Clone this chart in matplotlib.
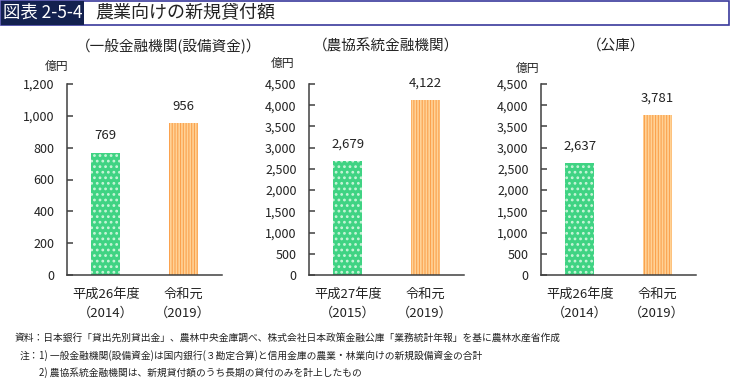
import matplotlib
matplotlib.use('Agg')
import matplotlib.pyplot as plt
from matplotlib.patches import Rectangle

plt.rcParams['font.family'] = ['Noto Sans CJK JP', 'DejaVu Sans']
plt.rcParams['hatch.linewidth'] = 1.2

# data
panel_titles = ['（一般金融機関(設備資金)）', '（農協系統金融機関）', '（公庫）']
categories = [
    ['平成26年度\n（2014）', '令和元\n（2019）'],
    ['平成27年度\n（2015）', '令和元\n（2019）'],
    ['平成26年度\n（2014）', '令和元\n（2019）'],
]
values = [
    [769, 956],
    [2679, 4122],
    [2637, 3781],
]
y_max = [1200, 4500, 4500]
y_step = [200, 500, 500]
unit = '億円'

title_tag = '図表 2-5-4'
title = '農業向けの新規貸付額'
notes = [
    '資料：日本銀行「貸出先別貸出金」、農林中央金庫調べ、株式会社日本政策金融公庫「業務統計年報」を基に農林水産省作成',
    '1) 一般金融機関(設備資金)は国内銀行(３勘定合算)と信用金庫の農業・林業向けの新規設備資金の合計',
    '2) 農協系統金融機関は、新規貸付額のうち長期の貸付のみを計上したもの',
]

W, H = 730, 379
fig = plt.figure(figsize=(W / 100, H / 100), dpi=100)

green = '#3fd383'
orange = '#fba24e'
text_c = '#222222'
axis_c = '#404040'

# title bar
fig.patches.append(Rectangle((0.5 / W, 1 - 25 / H), 728.5 / W, 24 / H, transform=fig.transFigure,
                             facecolor='none', edgecolor='#3a3a9c', lw=1.2))
fig.patches.append(Rectangle((0.5 / W, 1 - 25 / H), 83 / W, 24 / H, transform=fig.transFigure,
                             facecolor='#13214f', edgecolor='none'))
fig.text(3 / W, 1 - 13 / H, title_tag, color='white', fontsize=12.5, va='center', ha='left')
fig.text(95 / W, 1 - 13 / H, title, color=text_c, fontsize=13, va='center', ha='left')

axes_left = [67, 309, 541]
title_x = [169, 386, 616]
unit_x = [57, 283, 528]
unit_y = [66, 63, 68]

for i in range(3):
    ax = fig.add_axes([axes_left[i] / W, (H - 275) / H, 155 / W, 191 / H])
    x = [0, 1]
    ax.bar(x[0], values[i][0], width=0.38, color=green, edgecolor='#c8f5d8',
           hatch='...', linewidth=0)
    ax.bar(x[1], values[i][1], width=0.38, color=orange, edgecolor='#ffd296',
           hatch='||||||', linewidth=0)
    ax.set_xlim(-0.5, 1.5)
    ax.set_ylim(0, y_max[i])
    ax.set_yticks(range(0, y_max[i] + 1, y_step[i]))
    ax.set_yticklabels(['{:,}'.format(v) for v in range(0, y_max[i] + 1, y_step[i])])
    ax.set_xticks(x)
    ax.set_xticklabels(categories[i], linespacing=1.6)
    ax.tick_params(axis='y', direction='in', length=4, width=1.1, color=axis_c,
                   labelsize=9, labelcolor=text_c, pad=9)
    ax.tick_params(axis='x', length=0, labelsize=9.5, labelcolor=text_c, pad=9)
    for s in ['top', 'right']:
        ax.spines[s].set_visible(False)
    for s in ['left', 'bottom']:
        ax.spines[s].set_color(axis_c)
        ax.spines[s].set_linewidth(1.1)
    for xi, v in zip(x, values[i]):
        ax.annotate('{:,}'.format(v), (xi, v), xytext=(0, 12), textcoords='offset points',
                    ha='center', va='center', fontsize=9.5, color=text_c)
    fig.text(title_x[i] / W, 1 - 46 / H, panel_titles[i], ha='center', va='center',
             fontsize=10.5, color=text_c)
    fig.text(unit_x[i] / W, 1 - unit_y[i] / H, unit, ha='center', va='center',
             fontsize=8.5, color=text_c)

# notes
fig.text(15 / W, 1 - 338 / H, notes[0], fontsize=7, va='center', ha='left', color=text_c)
fig.text(39 / W, 1 - 356 / H, '注：', fontsize=7, va='center', ha='right', color=text_c)
fig.text(39 / W, 1 - 356 / H, notes[1], fontsize=7, va='center', ha='left', color=text_c)
fig.text(39 / W, 1 - 373 / H, notes[2], fontsize=7, va='center', ha='left', color=text_c)

fig.savefig('out.png', dpi=100)
